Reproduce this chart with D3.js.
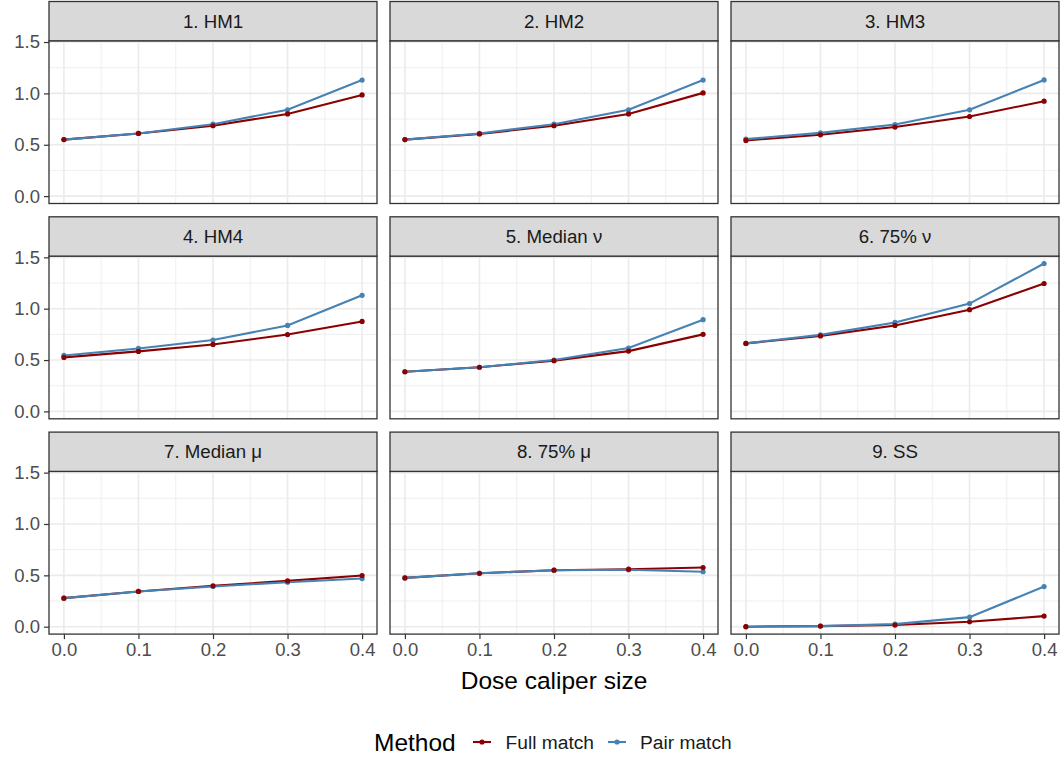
<meta charset="utf-8">
<script src="https://d3js.org/d3.v7.min.js"></script>
<style>
body { margin:0; background:white; overflow:hidden; }
text { font-family: "Liberation Sans", Arial, sans-serif; }
</style>
<body>
<svg id="chart" width="1064" height="759"></svg>
<script>
// data
var xVals = [0, 0.1, 0.2, 0.3, 0.4];
var panelNames = ["1. HM1", "2. HM2", "3. HM3", "4. HM4", "5. Median \u03bd", "6. 75% \u03bd",
                  "7. Median \u03bc", "8. 75% \u03bc", "9. SS"];
var fullMatch = [
  [0.550, 0.610, 0.685, 0.800, 0.985],
  [0.550, 0.605, 0.685, 0.800, 1.005],
  [0.542, 0.597, 0.672, 0.775, 0.924],
  [0.526, 0.584, 0.652, 0.748, 0.876],
  [0.386, 0.430, 0.494, 0.587, 0.750],
  [0.662, 0.735, 0.837, 0.990, 1.245],
  [0.278, 0.343, 0.398, 0.446, 0.498],
  [0.475, 0.520, 0.550, 0.560, 0.576],
  [0.000, 0.006, 0.016, 0.048, 0.103]
];
var pairMatch = [
  [0.550, 0.610, 0.700, 0.840, 1.130],
  [0.550, 0.610, 0.700, 0.840, 1.130],
  [0.555, 0.616, 0.697, 0.840, 1.131],
  [0.545, 0.613, 0.695, 0.837, 1.130],
  [0.386, 0.430, 0.500, 0.617, 0.893],
  [0.662, 0.745, 0.866, 1.050, 1.440],
  [0.278, 0.343, 0.392, 0.433, 0.469],
  [0.475, 0.520, 0.550, 0.555, 0.535],
  [0.000, 0.006, 0.025, 0.093, 0.391]
];
var methods = ["Full match", "Pair match"];
var colors = ["#8B0000", "#4682B4"];
var yTicks = [0, 0.5, 1.0, 1.5];
var yMinor = [0.25, 0.75, 1.25];
var xMinor = [0.05, 0.15, 0.25, 0.35];

var svg = d3.select("#chart");

var colX = [49, 390, 731], panelW = 328;
var rowTop = [1.5, 216.8, 432.1], stripH = 39.3, panelH = 162.7;

var all = fullMatch.concat(pairMatch).flat();
var ext = d3.extent(all), pad = (ext[1] - ext[0]) * 0.05;
var y = d3.scaleLinear().domain([ext[0] - pad, ext[1] + pad]).range([panelH, 0]);
var x = d3.scaleLinear().domain([-0.02, 0.42]).range([0, panelW]);

var line = d3.line().x(function(d, i) { return x(xVals[i]); }).y(function(d) { return y(d); });

panelNames.forEach(function(name, p) {
  var col = p % 3, row = Math.floor(p / 3);
  var g = svg.append("g").attr("transform", "translate(" + colX[col] + "," + (rowTop[row] + stripH) + ")");

  // grid
  g.selectAll(".ymin").data(yMinor).enter().append("line")
    .attr("x1", 0).attr("x2", panelW).attr("y1", y).attr("y2", y)
    .attr("stroke", "#EBEBEB").attr("stroke-width", 0.8);
  g.selectAll(".xmin").data(xMinor).enter().append("line")
    .attr("y1", 0).attr("y2", panelH).attr("x1", x).attr("x2", x)
    .attr("stroke", "#EBEBEB").attr("stroke-width", 0.8);
  g.selectAll(".ymaj").data(yTicks).enter().append("line")
    .attr("x1", 0).attr("x2", panelW).attr("y1", y).attr("y2", y)
    .attr("stroke", "#EBEBEB").attr("stroke-width", 1.6);
  g.selectAll(".xmaj").data(xVals).enter().append("line")
    .attr("y1", 0).attr("y2", panelH).attr("x1", x).attr("x2", x)
    .attr("stroke", "#EBEBEB").attr("stroke-width", 1.6);

  // lines
  [fullMatch[p], pairMatch[p]].forEach(function(s, k) {
    g.append("path").datum(s).attr("d", line).attr("fill", "none")
      .attr("stroke", colors[k]).attr("stroke-width", 2.1);
  });
  // points
  [pairMatch[p], fullMatch[p]].forEach(function(s, k) {
    g.selectAll(".pt" + k).data(s).enter().append("circle")
      .attr("cx", function(d, i) { return x(xVals[i]); })
      .attr("cy", function(d) { return y(d); })
      .attr("r", 2.6).attr("fill", k == 0 ? colors[1] : colors[0]);
  });

  // border
  g.append("rect").attr("width", panelW).attr("height", panelH)
    .attr("fill", "none").attr("stroke", "#333333").attr("stroke-width", 1.3);

  // strip
  svg.append("rect").attr("x", colX[col]).attr("y", rowTop[row])
    .attr("width", panelW).attr("height", stripH)
    .attr("fill", "#D9D9D9").attr("stroke", "#333333").attr("stroke-width", 1.3);
  svg.append("text").attr("x", colX[col] + panelW / 2).attr("y", rowTop[row] + stripH / 2 + 6.5)
    .attr("text-anchor", "middle").attr("font-size", 18.7).attr("fill", "#1A1A1A").text(name);

  // y axis on first column
  if (col == 0) {
    var ya = g.append("g").call(d3.axisLeft(y).tickValues(yTicks).tickFormat(d3.format(".1f")).tickSize(5).tickPadding(4));
    ya.select(".domain").remove();
    ya.selectAll("line").attr("stroke", "#333333").attr("stroke-width", 1.2);
    ya.selectAll("text").attr("font-size", 18.5).attr("fill", "#4D4D4D")
      .attr("font-family", "Liberation Sans, Arial, sans-serif");
  }
  // x axis on bottom row
  if (row == 2) {
    var xa = g.append("g").attr("transform", "translate(0," + panelH + ")")
      .call(d3.axisBottom(x).tickValues(xVals).tickFormat(d3.format(".1f")).tickSize(5).tickPadding(4));
    xa.select(".domain").remove();
    xa.selectAll("line").attr("stroke", "#333333").attr("stroke-width", 1.2);
    xa.selectAll("text").attr("font-size", 18.5).attr("fill", "#4D4D4D")
      .attr("font-family", "Liberation Sans, Arial, sans-serif");
  }
});

// axis title
svg.append("text").attr("x", (colX[0] + colX[2] + panelW) / 2).attr("y", 689)
  .attr("text-anchor", "middle").attr("font-size", 24.5).attr("fill", "black").text("Dose caliper size");

// legend
var leg = svg.append("g").attr("transform", "translate(374,742)");
leg.append("text").attr("x", 0).attr("y", 9).attr("font-size", 24.5).attr("fill", "black").text("Method");
var keyX = [99, 234], labX = [131.5, 266];
methods.forEach(function(m, k) {
  leg.append("line").attr("x1", keyX[k]).attr("x2", keyX[k] + 18).attr("y1", 0).attr("y2", 0)
    .attr("stroke", colors[k]).attr("stroke-width", 2.1);
  leg.append("circle").attr("cx", keyX[k] + 9).attr("cy", 0).attr("r", 2.6).attr("fill", colors[k]);
  leg.append("text").attr("x", labX[k]).attr("y", 6.5).attr("font-size", 19.2).attr("fill", "#1A1A1A").text(m);
});
</script>
</body>
